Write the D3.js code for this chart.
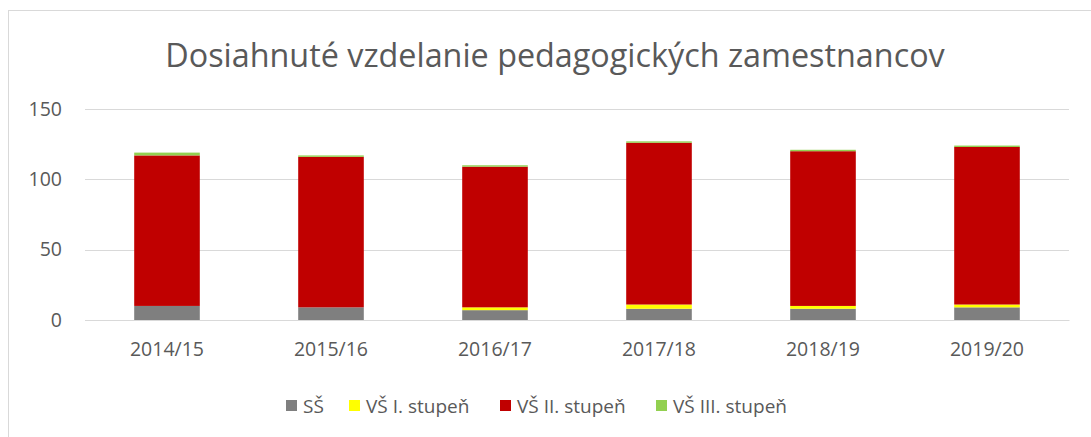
<!DOCTYPE html>
<html>
<head>
<meta charset="utf-8">
<script src="https://cdn.jsdelivr.net/npm/d3@7"></script>
<style>
  body { margin: 0; background: #fff; }
  text { font-family: "Open Sans", "Noto Sans", sans-serif; fill: #595959; }
</style>
</head>
<body>
<div id="viz"></div>
<script>
var years = ["2014/15", "2015/16", "2016/17", "2017/18", "2018/19", "2019/20"];
var seriesNames = ["SŠ", "VŠ I. stupeň", "VŠ II. stupeň", "VŠ III. stupeň"];
var ss      = [10, 9, 7, 8, 8, 9];
var vs1     = [0, 0, 2, 3, 2, 2];
var vs2     = [107, 107, 100, 115, 110, 112];
var vs3     = [2, 1, 1, 1, 1, 1];
var colors  = ["#7f7f7f", "#ffff00", "#c00000", "#92d050"];
var yTicks  = [0, 50, 100, 150];

var width = 1091, height = 437;
var margin = {top: 109, right: 22, bottom: 117, left: 85};

var rows = years.map(function(y, i) {
  return {year: y, "SŠ": ss[i], "VŠ I. stupeň": vs1[i], "VŠ II. stupeň": vs2[i], "VŠ III. stupeň": vs3[i]};
});
var stacked = d3.stack().keys(seriesNames)(rows);

var svg = d3.select('#viz').append('svg')
  .attr('width', width)
  .attr('height', height);

// chart border (right/bottom fall outside the picture)
svg.append('rect')
  .attr('x', 8.5).attr('y', 10.5)
  .attr('width', 1100).attr('height', 440)
  .attr('fill', 'none')
  .attr('stroke', '#d9d9d9');

var x = d3.scaleBand()
  .domain(years)
  .range([margin.left, width - margin.right])
  .paddingInner(0.6).paddingOuter(0.3);

var y = d3.scaleLinear()
  .domain([0, 150])
  .range([height - margin.bottom, margin.top]);

// gridlines
svg.append('g')
  .selectAll('line')
  .data(yTicks)
  .join('line')
  .attr('x1', margin.left)
  .attr('x2', width - margin.right)
  .attr('y1', d => Math.round(y(d)) + 0.5)
  .attr('y2', d => Math.round(y(d)) + 0.5)
  .attr('stroke', '#d9d9d9')
  .attr('stroke-width', 1);

// y axis labels
var yAxis = svg.append('g')
  .attr('transform', 'translate(' + margin.left + ',0)')
  .call(d3.axisLeft(y).tickValues(yTicks).tickSize(0).tickPadding(23));
yAxis.select('.domain').remove();
yAxis.selectAll('text')
  .style('font-size', '19.5px')
  .style('font-family', '"Open Sans", sans-serif')
  .attr('fill', '#595959');

// bars
svg.append('g')
  .selectAll('g')
  .data(stacked)
  .join('g')
  .attr('fill', (d, i) => colors[i])
  .selectAll('rect')
  .data(d => d)
  .join('rect')
  .attr('x', d => x(d.data.year))
  .attr('y', d => y(d[1]))
  .attr('width', x.bandwidth())
  .attr('height', d => y(d[0]) - y(d[1]));

// x axis
var xAxis = svg.append('g')
  .attr('transform', 'translate(0,' + (height - margin.bottom) + ')')
  .call(d3.axisBottom(x).tickSize(0).tickPadding(22));
xAxis.select('.domain')
  .attr('stroke', '#d9d9d9');
xAxis.selectAll('text')
  .style('font-size', '19.5px')
  .style('font-family', '"Open Sans", sans-serif')
  .attr('fill', '#595959');

// title
var title = svg.append('text')
  .attr('x', 555)
  .attr('y', 67)
  .attr('text-anchor', 'middle')
  .style('font-size', '30px')
  .text('Dosiahnuté vzdelanie pedagogických zamestnancov');
var tw = title.node().getComputedTextLength();
title.style('font-size', (30 * 780 / tw) + 'px');

// legend
var legendX = [286, 349, 500, 656];
var legend = svg.append('g');
var item = legend.selectAll('g')
  .data(seriesNames)
  .join('g')
  .attr('transform', (d, i) => 'translate(' + legendX[i] + ',400)');
item.append('rect')
  .attr('width', 11).attr('height', 11)
  .attr('fill', (d, i) => colors[i]);
item.append('text')
  .attr('x', 17)
  .attr('y', 13)
  .style('font-size', '19px')
  .text(d => d);
</script>
</body>
</html>
